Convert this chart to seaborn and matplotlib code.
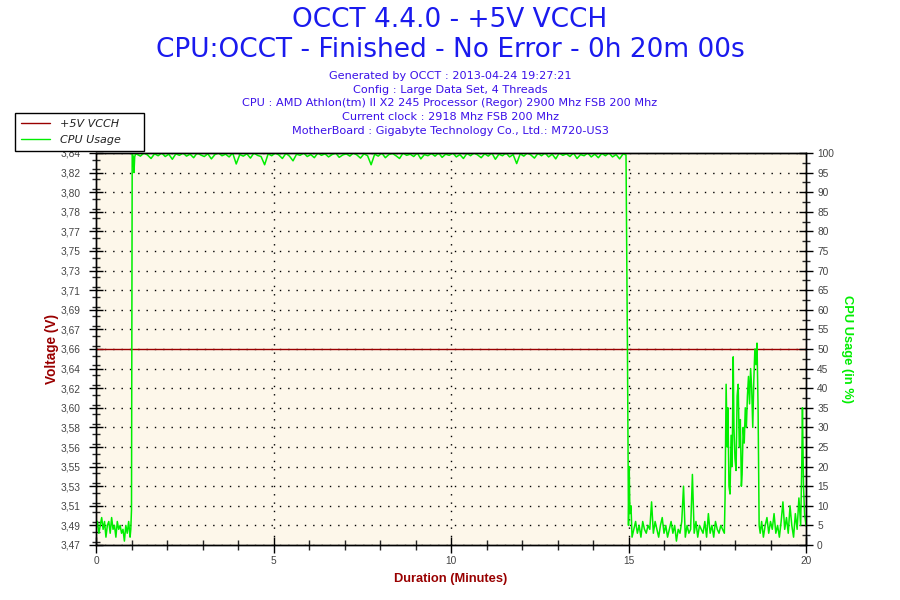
import matplotlib
matplotlib.use("Agg")
import matplotlib.pyplot as plt
import seaborn as sns
import numpy as np
from matplotlib.lines import Line2D
from matplotlib.ticker import MultipleLocator, FixedLocator

# ---------------- data ----------------
title_main = "OCCT 4.4.0 - +5V VCCH"
title_sub = "CPU:OCCT - Finished - No Error - 0h 20m 00s"
info_lines = [
    "Generated by OCCT : 2013-04-24 19:27:21",
    "Config : Large Data Set, 4 Threads",
    "CPU : AMD Athlon(tm) II X2 245 Processor (Regor) 2900 Mhz FSB 200 Mhz",
    "Current clock : 2918 Mhz FSB 200 Mhz",
    "MotherBoard : Gigabyte Technology Co., Ltd.: M720-US3",
]

volt_labels = ["3,47", "3,49", "3,51", "3,53", "3,55", "3,56", "3,58", "3,60",
               "3,62", "3,64", "3,66", "3,67", "3,69", "3,71", "3,73", "3,75",
               "3,77", "3,78", "3,80", "3,82", "3,84"]
volt_min, volt_max = 3.475, 3.845

volt_time = [0.0, 20.0]
volt_values = [3.66, 3.66]

cpu_time_a = [0.00, 0.04, 0.08, 0.12, 0.16, 0.20, 0.24, 0.28, 0.32, 0.36, 0.40, 0.44,
              0.48, 0.52, 0.56, 0.60, 0.64, 0.68, 0.72, 0.76, 0.80, 0.84, 0.88, 0.92,
              0.96, 0.98, 1.00, 1.02, 1.05, 1.07, 1.09, 1.12]
cpu_vals_a = [4, 6, 3, 5, 7, 4, 6, 2, 5, 6, 3, 7,
              4, 5, 2, 6, 4, 5, 3, 4, 1, 5, 3, 6,
              2, 4, 9, 100, 99, 95, 99, 100]

cpu_time_b = [1.15, 1.25, 1.35, 1.45, 1.55, 1.65, 1.75, 1.85, 1.95, 2.05, 2.15, 2.25,
              2.35, 2.45, 2.55, 2.65, 2.75, 2.85, 2.95, 3.05, 3.15, 3.25, 3.35, 3.45,
              3.55, 3.65, 3.75, 3.85, 3.95, 4.05, 4.15, 4.25, 4.35, 4.45, 4.55, 4.65,
              4.75, 4.85, 4.95, 5.05, 5.15, 5.25, 5.35, 5.45, 5.55, 5.65, 5.75, 5.85,
              5.95, 6.05, 6.15, 6.25, 6.35, 6.45, 6.55, 6.65, 6.75, 6.85, 6.95, 7.05,
              7.15, 7.25, 7.35, 7.45, 7.55, 7.65, 7.75, 7.85, 7.95, 8.05, 8.15, 8.25,
              8.35, 8.45, 8.55, 8.65, 8.75, 8.85, 8.95, 9.05, 9.15, 9.25, 9.35, 9.45,
              9.55, 9.65, 9.75, 9.85, 9.95, 10.05, 10.15, 10.25, 10.35, 10.45, 10.55, 10.65,
              10.75, 10.85, 10.95, 11.05, 11.15, 11.25, 11.35, 11.45, 11.55, 11.65, 11.75, 11.85,
              11.95, 12.05, 12.15, 12.25, 12.35, 12.45, 12.55, 12.65, 12.75, 12.85, 12.95, 13.05,
              13.15, 13.25, 13.35, 13.45, 13.55, 13.65, 13.75, 13.85, 13.95, 14.05, 14.15, 14.25,
              14.35, 14.45, 14.55, 14.65, 14.75, 14.85]
cpu_vals_b = [99.7, 99.2, 100, 99.5, 98.6, 99.8, 99.3, 100, 99.1, 99.7, 98.4, 99.8,
              99.4, 100, 99.2, 99.7, 98.8, 100, 99.5, 99.1, 99.8, 98.5, 99.6, 100,
              99.3, 99.7, 99.0, 100, 97.2, 99.6, 99.2, 99.8, 98.7, 100, 99.4, 99.1,
              97.0, 99.8, 99.3, 100, 99.5, 98.6, 99.9, 99.2, 98.0, 99.7, 99.4, 100,
              99.1, 99.6, 98.8, 100, 99.4, 99.8, 99.0, 99.6, 100, 98.9, 99.5, 99.8,
              99.2, 100, 99.5, 98.7, 99.8, 99.3, 97.0, 99.7, 99.2, 100, 98.8, 99.6,
              99.9, 99.3, 98.6, 100, 99.4, 99.7, 99.1, 100, 98.5, 99.6, 99.3, 99.9,
              99.2, 100, 98.9, 99.7, 99.4, 100, 99.0, 99.6, 98.6, 99.9, 99.3, 100,
              99.5, 98.8, 99.8, 99.2, 100, 98.4, 99.7, 99.3, 100, 99.0, 99.6, 97.3,
              99.8, 99.2, 100, 99.5, 98.7, 99.9, 99.3, 100, 99.0, 99.7, 98.5, 100,
              99.4, 99.8, 99.1, 100, 98.6, 99.6, 99.3, 100, 99.0, 99.7, 98.8, 99.9,
              99.3, 100, 99.0, 99.6, 98.5, 99.8]

cpu_time_c = [14.93, 14.97, 15.00, 15.02, 15.04, 15.07, 15.10,
              15.15, 15.20, 15.25, 15.30, 15.35, 15.40, 15.45, 15.50, 15.55, 15.60, 15.65, 15.70,
              15.75, 15.80, 15.85, 15.90, 15.95, 16.00, 16.05, 16.10, 16.15, 16.20, 16.25, 16.30,
              16.35, 16.40, 16.45, 16.50, 16.55, 16.60, 16.65, 16.70, 16.75, 16.80, 16.85, 16.90,
              16.95, 17.00, 17.05, 17.10, 17.15, 17.20, 17.25, 17.30, 17.35, 17.40, 17.45, 17.50,
              17.55, 17.60, 17.65, 17.70]
cpu_vals_c = [99.5, 50, 5, 20, 8, 10, 2,
              4, 6, 3, 5, 2, 6, 4, 3, 5, 4, 11, 3,
              6, 4, 2, 5, 7, 3, 5, 2, 4, 6, 3, 5,
              1, 4, 3, 6, 15, 2, 5, 3, 4, 18, 3, 6,
              2, 5, 4, 3, 6, 2, 8, 3, 5, 2, 6, 4,
              3, 5, 4, 3]

cpu_time_d = [17.72, 17.75, 17.78, 17.80, 17.83, 17.86, 17.89, 17.92, 17.95, 17.97, 18.00, 18.03,
              18.06, 18.09, 18.12, 18.15, 18.18, 18.20, 18.23, 18.26, 18.29, 18.32, 18.35, 18.38,
              18.41, 18.44, 18.47, 18.50, 18.53, 18.56, 18.59, 18.62, 18.65, 18.68, 18.71]
cpu_vals_d = [12, 41, 25, 35, 15, 13, 28, 20, 48, 30, 22, 19,
              38, 41, 25, 32, 15, 18, 30, 26, 35, 30, 38, 43,
              36, 45, 40, 30, 42, 50, 46, 51.5, 35, 5, 3]

cpu_time_e = [18.75, 18.80, 18.85, 18.90, 18.95, 19.00, 19.05, 19.10, 19.15, 19.20, 19.25, 19.30,
              19.35, 19.40, 19.45, 19.50, 19.55, 19.60, 19.65, 19.70, 19.75, 19.80, 19.85, 19.88,
              19.90, 19.93, 19.96, 20.00]
cpu_vals_e = [6, 2, 5, 7, 3, 6, 4, 8, 3, 5, 2, 6,
              11, 4, 7, 3, 10, 5, 2, 8, 4, 12, 5, 20,
              35, 15, 8, 5]

cpu_time = cpu_time_a + cpu_time_b + cpu_time_c + cpu_time_d + cpu_time_e
cpu_values = cpu_vals_a + cpu_vals_b + cpu_vals_c + cpu_vals_d + cpu_vals_e

# ---------------- style ----------------
sns.set_theme(style="white")
plt.rcParams['font.family'] = ['DejaVu Sans']

VOLT_COLOR = "#990000"
CPU_COLOR = "#00ee00"
BG = "#fdf7ea"
TICK_COLOR = "#444444"

fig = plt.figure(figsize=(9, 6), dpi=100)
fig.patch.set_facecolor("white")
ax = fig.add_axes([96/900, 1-545/600, (806-96)/900, (545-153)/600])
ax.set_facecolor(BG)
ax2 = ax.twinx()

sns.lineplot(x=volt_time, y=volt_values, ax=ax, color=VOLT_COLOR, linewidth=1.0,
             estimator=None, sort=False, legend=False)
sns.lineplot(x=cpu_time, y=cpu_values, ax=ax2, color=CPU_COLOR, linewidth=1.1,
             estimator=None, sort=False, legend=False)

ax.set_xlim(0, 20)
ax.set_ylim(volt_min, volt_max)
ax2.set_ylim(0, 100)

# left ticks
vt = list(np.linspace(volt_min, volt_max, len(volt_labels)))
ax.yaxis.set_major_locator(FixedLocator(vt))
ax.set_yticklabels(volt_labels)
step = (volt_max - volt_min) / (len(volt_labels) - 1)
ax.yaxis.set_minor_locator(MultipleLocator(step / 2))
# x ticks
ax.xaxis.set_major_locator(FixedLocator([0, 5, 10, 15, 20]))
ax.set_xticklabels(["0", "5", "10", "15", "20"])
ax.xaxis.set_minor_locator(MultipleLocator(1))
# right ticks
ax2.yaxis.set_major_locator(MultipleLocator(5))
ax2.yaxis.set_minor_locator(MultipleLocator(2.5))

tick_font = dict(labelsize=7.3, labelcolor=TICK_COLOR, color="black")
ax.tick_params(axis="y", which="major", direction="inout", length=10, width=1, pad=6, left=True, **tick_font)
ax.tick_params(axis="y", which="minor", direction="inout", length=6, width=1, left=True)
ax.tick_params(axis="x", which="major", direction="inout", length=12, width=1, pad=2, bottom=True, **tick_font)
ax.tick_params(axis="x", which="minor", direction="inout", length=7, width=1, bottom=True)
ax2.tick_params(axis="y", which="major", direction="inout", length=10, width=1, pad=3, right=True, **tick_font)
ax2.tick_params(axis="y", which="minor", direction="inout", length=6, width=1, right=True)
for lab in ax.get_xticklabels() + ax.get_yticklabels() + ax2.get_yticklabels():
    lab.set_family("Liberation Sans")

for a in (ax, ax2):
    for s in a.spines.values():
        s.set_color("black")
        s.set_linewidth(1.0)

# grid
ax.grid(False)
ax2.grid(False)
for i in range(len(vt)):
    ax.axhline(vt[i], color="black", linewidth=1.0, linestyle=(0, (1, 5)), zorder=0.5)
for xv in [5, 10, 15]:
    ax.axvline(xv, color="black", linewidth=1.0, linestyle=(0, (1, 5)), zorder=0.5)

ax.set_xlabel("Duration (Minutes)", color=VOLT_COLOR, fontsize=9.3, fontweight="bold",
              family="Liberation Sans", labelpad=5)
ax.set_ylabel("Voltage (V)", color=VOLT_COLOR, fontsize=9.8, fontweight="bold",
              family="Liberation Sans", labelpad=1)
ax2.set_ylabel("CPU Usage (in %)", color=CPU_COLOR, fontsize=9.3, fontweight="bold",
               family="Liberation Sans", rotation=270, labelpad=14)

# titles
fig.text(0.5, 1-20/600, title_main, ha="center", va="center", fontsize=19, color="#1a1aee")
fig.text(0.5, 1-50/600, title_sub, ha="center", va="center", fontsize=19, color="#1a1aee")
for i, line in enumerate(info_lines):
    fig.text(0.5, 1-(76 + i*13.7)/600, line, ha="center", va="center", fontsize=8.1,
             color="#3a10e8")

# legend
handles = [Line2D([0], [0], color=VOLT_COLOR, linewidth=1.0),
           Line2D([0], [0], color=CPU_COLOR, linewidth=1.0)]
leg = fig.legend(handles, ["+5V VCCH", "CPU Usage     "], loc="upper left",
                 bbox_to_anchor=(15/900, 1-113/600), frameon=True, fancybox=False,
                 framealpha=1, edgecolor="black", prop=dict(size=8, style="italic"),
                 handlelength=2.6, handletextpad=0.9, borderpad=0.55, labelspacing=0.55,
                 borderaxespad=0)
leg.get_frame().set_linewidth(1.0)
for t in leg.get_texts():
    t.set_color("#222222")

fig.savefig("out.png", dpi=100, facecolor="white")
